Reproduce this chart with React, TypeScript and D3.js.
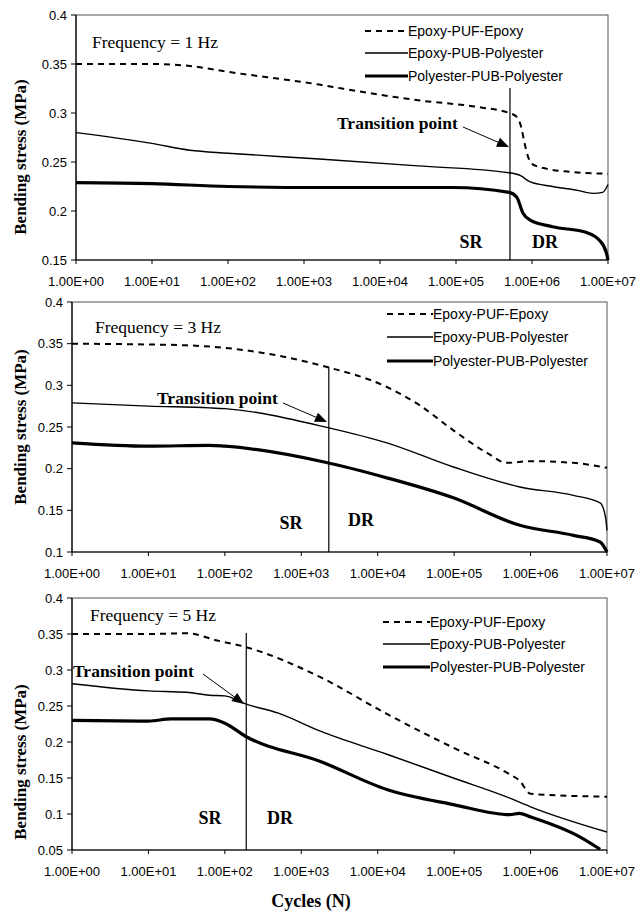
import React from "react"
import * as d3 from "d3"

// cycles are kept as log10(N)
const seriesNames = ["Epoxy-PUF-Epoxy", "Epoxy-PUB-Polyester", "Polyester-PUB-Polyester"]
const xTickExp = [0, 1, 2, 3, 4, 5, 6, 7]

// 1 Hz
const f1PufExp = [0, 1, 1.5, 2, 3.2, 3.5, 4.5, 5.3, 5.7, 5.8, 5.86, 5.9, 5.95, 6.0, 6.2, 6.5, 7]
const f1PufVal = [0.35, 0.35, 0.348, 0.342, 0.329, 0.325, 0.313, 0.306, 0.3, 0.296, 0.285, 0.27, 0.255, 0.248, 0.243, 0.24, 0.238]
const f1PubExp = [0, 1, 1.5, 2, 3.2, 4.5, 5.7, 5.85, 5.97, 6.27, 6.6, 6.8, 6.93, 7]
const f1PubVal = [0.28, 0.269, 0.262, 0.259, 0.253, 0.246, 0.239, 0.236, 0.23, 0.225, 0.221, 0.218, 0.219, 0.227]
const f1PolExp = [0, 1, 2, 3.2, 4.95, 5.7, 5.8, 5.88, 5.97, 6.27, 6.72, 6.89, 6.98, 7]
const f1PolVal = [0.229, 0.228, 0.225, 0.224, 0.224, 0.219, 0.214, 0.198, 0.191, 0.184, 0.178, 0.17, 0.157, 0.15]

// 3 Hz
const f3PufExp = [0, 1, 1.5, 2, 3.25, 4.12, 4.55, 4.99, 5.43, 5.69, 6.0, 6.56, 7]
const f3PufVal = [0.35, 0.349, 0.348, 0.345, 0.324, 0.298, 0.276, 0.246, 0.219, 0.207, 0.209, 0.207, 0.201]
const f3PubExp = [0, 1, 1.8, 2, 3.36, 4.12, 4.99, 5.86, 6.56, 6.91, 6.98, 7]
const f3PubVal = [0.279, 0.275, 0.273, 0.272, 0.249, 0.231, 0.202, 0.178, 0.168, 0.159, 0.142, 0.126]
const f3PolExp = [0, 1, 1.8, 2, 3.3, 4.12, 4.99, 5.86, 6.56, 6.91, 7]
const f3PolVal = [0.231, 0.227, 0.228, 0.227, 0.208, 0.189, 0.165, 0.132, 0.12, 0.112, 0.1]

// 5 Hz
const f5PufExp = [0, 1, 1.5, 1.9, 2.27, 3.25, 4.12, 4.99, 5.73, 5.85, 6.0, 7]
const f5PufVal = [0.35, 0.35, 0.351, 0.341, 0.332, 0.29, 0.239, 0.192, 0.155, 0.147, 0.128, 0.124]
const f5PubExp = [0, 1, 1.5, 1.8, 2, 2.27, 2.7, 3.25, 4.12, 4.99, 5.73, 6.0, 7]
const f5PubVal = [0.281, 0.271, 0.269, 0.265, 0.264, 0.253, 0.24, 0.215, 0.183, 0.15, 0.122, 0.11, 0.075]
const f5PolExp = [0, 1, 1.3, 1.8, 2, 2.27, 3.25, 4.12, 4.99, 5.73, 5.85, 6.0, 6.65, 6.91]
const f5PolVal = [0.23, 0.229, 0.232, 0.232, 0.226, 0.208, 0.173, 0.134, 0.113, 0.099, 0.101, 0.096, 0.068, 0.051]

const freqLabels = ["Frequency = 1 Hz", "Frequency = 3 Hz", "Frequency = 5 Hz"]
const yMins = [0.15, 0.1, 0.05]
const transitionExp = [5.71, 3.36, 2.28]

const SANS = "'Liberation Sans', Arial, sans-serif"
const SERIF = "'Liberation Serif', 'Times New Roman', serif"

const panels = [
  {
    top: 15, bottom: 260, left: 76, right: 608,
    series: [[f1PufExp, f1PufVal], [f1PubExp, f1PubVal], [f1PolExp, f1PolVal]],
    vTop: 88, legX: 365, legTx: 408, legY: [31, 53, 76],
    freq: [92, 42], ytitle: 157,
    trText: [337, 123], arrow: [463, 127, 509, 147],
    sr: [471, 242], dr: [545, 242],
  },
  {
    top: 302, bottom: 552, left: 72, right: 607,
    series: [[f3PufExp, f3PufVal], [f3PubExp, f3PubVal], [f3PolExp, f3PolVal]],
    vTop: 367, legX: 387, legTx: 433, legY: [314, 337, 361],
    freq: [95, 327], ytitle: 427,
    trText: [157, 398], arrow: [283, 403, 327, 422],
    sr: [291, 523], dr: [361, 520],
  },
  {
    top: 598, bottom: 850, left: 72, right: 607,
    series: [[f5PufExp, f5PufVal], [f5PubExp, f5PubVal], [f5PolExp, f5PolVal]],
    vTop: 633, legX: 383, legTx: 430, legY: [622, 644, 667],
    freq: [90, 615], ytitle: 762,
    trText: [73, 671], arrow: [203, 674, 244, 704],
    sr: [210, 818], dr: [280, 818],
  },
]

const styles = [
  {w: 2, dash: "6 5"},
  {w: 1.4, dash: undefined},
  {w: 3.2, dash: undefined},
]

function Panel({p, i}: {p: any, i: number}) {
  const x = d3.scaleLog().domain([1, 1e7]).range([p.left, p.right])
  const y = d3.scaleLinear().domain([yMins[i], 0.4]).range([p.bottom, p.top])
  const yTicks = d3.range(Math.round(yMins[i] * 100), 41, 5).map(v => v / 100)
  const line = d3.line<[number, number]>()
    .x(d => x(Math.pow(10, d[0])))
    .y(d => y(d[1]))
    .curve(d3.curveMonotoneX)
  const tx = x(Math.pow(10, transitionExp[i]))
  const [ax1, ay1, ax2, ay2] = p.arrow
  const ang = Math.atan2(ay2 - ay1, ax2 - ax1)
  const hl = 12, hw = 5
  const head = [
    [ax2, ay2],
    [ax2 - hl * Math.cos(ang) + hw * Math.sin(ang), ay2 - hl * Math.sin(ang) - hw * Math.cos(ang)],
    [ax2 - hl * Math.cos(ang) - hw * Math.sin(ang), ay2 - hl * Math.sin(ang) + hw * Math.cos(ang)],
  ].map(q => q.join(",")).join(" ")

  return (
    <g>
      <rect x={p.left} y={p.top} width={p.right - p.left} height={p.bottom - p.top}
        fill="none" stroke="#555" strokeWidth={1} />
      <line x1={p.left} x2={p.left} y1={p.top} y2={p.bottom} stroke="#000" strokeWidth={1.2} />
      <line x1={p.left} x2={p.right} y1={p.bottom} y2={p.bottom} stroke="#000" strokeWidth={1.2} />
      {yTicks.map(v => (
        <g key={v}>
          <line x1={p.left - 5} x2={p.left} y1={y(v)} y2={y(v)} stroke="#000" />
          <text x={p.left - 9} y={y(v)} dy="0.35em" textAnchor="end" fontFamily={SANS} fontSize={13}>
            {String(+v.toFixed(2))}
          </text>
        </g>
      ))}
      {xTickExp.map(e => (
        <g key={e}>
          <line x1={x(Math.pow(10, e))} x2={x(Math.pow(10, e))} y1={p.bottom} y2={p.bottom + 4} stroke="#000" />
          <text x={x(Math.pow(10, e))} y={p.bottom + 21} dy="0.35em" textAnchor="middle" fontFamily={SANS} fontSize={13}>
            {"1.00E+0" + e}
          </text>
        </g>
      ))}
      {p.series.map((s: number[][], k: number) => (
        <path key={k} d={line(s[0].map((e, j) => [e, s[1][j]]) as [number, number][]) || ""}
          fill="none" stroke="#000" strokeWidth={styles[k].w} strokeDasharray={styles[k].dash} />
      ))}
      <line x1={tx} x2={tx} y1={p.vTop} y2={p.bottom} stroke="#000" strokeWidth={1.2} />
      <text x={p.trText[0]} y={p.trText[1]} dy="0.35em" fontFamily={SERIF} fontWeight="bold" fontSize={17.5}>
        Transition point
      </text>
      <line x1={ax1} y1={ay1} x2={ax2 - 8 * Math.cos(ang)} y2={ay2 - 8 * Math.sin(ang)} stroke="#000" strokeWidth={1} />
      <polygon points={head} fill="#000" />
      <text x={p.sr[0]} y={p.sr[1]} dy="0.35em" textAnchor="middle" fontFamily={SERIF} fontWeight="bold" fontSize={18}>SR</text>
      <text x={p.dr[0]} y={p.dr[1]} dy="0.35em" textAnchor="middle" fontFamily={SERIF} fontWeight="bold" fontSize={18}>DR</text>
      <text x={p.freq[0]} y={p.freq[1]} dy="0.35em" fontFamily={SERIF} fontSize={17.5}>{freqLabels[i]}</text>
      {seriesNames.map((n, k) => (
        <g key={n}>
          <line x1={p.legX} x2={p.legTx} y1={p.legY[k]} y2={p.legY[k]} stroke="#000"
            strokeWidth={styles[k].w} strokeDasharray={styles[k].dash} />
          <text x={p.legTx} y={p.legY[k]} dy="0.35em" fontFamily={SANS} fontSize={14}>{n}</text>
        </g>
      ))}
      <text transform={`translate(20,${p.ytitle}) rotate(-90)`} dy="0.35em" textAnchor="middle"
        fontFamily={SERIF} fontWeight="bold" fontSize={17}>
        Bending stress (MPa)
      </text>
    </g>
  )
}

export default function App() {
  return (
    <svg width={639} height={911} style={{position: "absolute", left: 0, top: 0, background: "#fff"}}>
      <rect width={639} height={911} fill="#fff" />
      {panels.map((p, i) => <Panel key={i} p={p} i={i} />)}
      <text x={311} y={901} dy="0.35em" textAnchor="middle" fontFamily={SERIF} fontWeight="bold" fontSize={18}>
        Cycles (N)
      </text>
    </svg>
  )
}
